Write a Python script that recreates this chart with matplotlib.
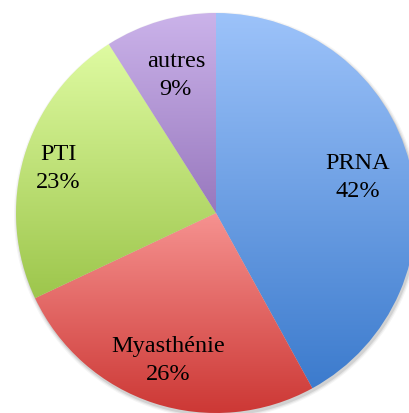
import numpy as np
import matplotlib
matplotlib.use("Agg")
import matplotlib.pyplot as plt
from matplotlib.colors import LinearSegmentedColormap
from matplotlib.patches import Circle

labels = ["PRNA", "Myasthénie", "PTI", "autres"]
values = [42, 26, 23, 9]
top_colors = ["#9DC3FA", "#F69290", "#DFFBA2", "#CBB3EA"]
bottom_colors = ["#3C7BCD", "#CC3734", "#9DC64C", "#9878BE"]
label_dist = [0.73, 0.77, 0.82, 0.72]

fig = plt.figure(figsize=(4.10, 4.14), dpi=100)
ax = fig.add_axes([0, 0, 1, 1])

# soft shadow
for r, a in [(1.016, 0.08), (1.010, 0.12), (1.004, 0.2)]:
    ax.add_patch(Circle((0.006, -0.012), r, color="#808080", alpha=a, lw=0, zorder=0))

wedges, _ = ax.pie(values, startangle=90, counterclock=False, radius=1.0,
                   colors=["none"] * len(values),
                   wedgeprops=dict(linewidth=0), frame=False)

for w, tc, bc, lab, v, ld in zip(wedges, top_colors, bottom_colors, labels, values, label_dist):
    w.set_facecolor("none")
    path = w.get_path()
    verts = path.vertices
    ymin, ymax = verts[:, 1].min(), verts[:, 1].max()
    xmin, xmax = verts[:, 0].min(), verts[:, 0].max()
    cmap = LinearSegmentedColormap.from_list("g", [bc, tc])
    grad = np.linspace(0, 1, 256).reshape(-1, 1)
    im = ax.imshow(grad, cmap=cmap, origin="lower", aspect="auto",
                   extent=[xmin, xmax, ymin, ymax], zorder=1, interpolation="bicubic")
    im.set_clip_path(w)
    ang = np.deg2rad((w.theta1 + w.theta2) / 2)
    ax.text(ld * np.cos(ang), ld * np.sin(ang), f"{lab}\n{v}%",
            ha="center", va="center", fontsize=17.5, family="Liberation Serif",
            linespacing=1.45, zorder=3)

ax.set_aspect("equal")
ax.set_xlim(-1.08, 0.97)
ax.set_ylim(-1.0, 1.07)
ax.axis("off")
fig.savefig("out.png", dpi=100, facecolor="white")
